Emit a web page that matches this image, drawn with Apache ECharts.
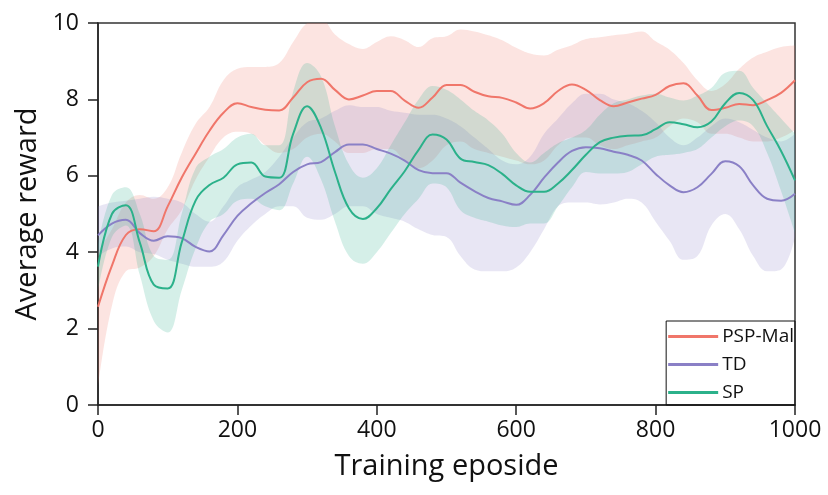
<!DOCTYPE html>
<html>
<head>
<meta charset="utf-8">
<script src="https://cdn.jsdelivr.net/npm/echarts@6/dist/echarts.min.js"></script>
<style>
html,body{margin:0;padding:0;background:#fff;}
#chart{width:828px;height:495px;}
</style>
</head>
<body>
<div id="chart"></div>
<script>
const episodes = [0,20,40,60,80,100,120,140,160,180,200,220,240,260,280,300,320,340,360,380,400,420,440,460,480,500,520,540,560,580,600,620,640,660,680,700,720,740,760,780,800,820,840,860,880,900,920,940,960,980,1000];

const pspMean = [2.57,3.65,4.45,4.6,4.55,5.2,5.95,6.58,7.18,7.65,7.9,7.8,7.73,7.71,8.05,8.45,8.54,8.25,8.0,8.1,8.22,8.22,7.97,7.78,8.05,8.38,8.38,8.2,8.08,8.04,7.92,7.76,7.9,8.22,8.39,8.25,7.98,7.82,7.92,8.02,8.12,8.35,8.42,8.1,7.72,7.78,7.88,7.85,7.98,8.17,8.5];
const pspUpper = [4.0,4.6,5.3,5.5,5.4,5.7,6.6,7.36,7.8,8.5,8.8,8.85,8.85,8.95,9.5,10.0,10.1,9.7,9.45,9.32,9.5,9.65,9.55,9.37,9.6,9.65,9.83,9.78,9.68,9.55,9.35,9.2,9.15,9.3,9.42,9.58,9.63,9.68,9.72,9.78,9.52,9.3,8.95,8.5,8.22,8.4,8.8,9.1,9.25,9.37,9.41];
const pspLower = [0.5,2.6,3.5,3.6,3.9,4.6,5.1,5.9,6.5,7.0,7.15,7.1,6.8,6.6,6.7,7.0,7.1,6.9,6.6,6.6,6.7,6.7,6.4,6.2,6.4,6.8,6.9,6.7,6.6,6.5,6.4,6.3,6.4,6.8,7.0,7.0,6.8,6.7,6.8,6.9,7.0,7.3,7.5,7.4,7.1,7.1,7.0,6.9,6.9,7.0,7.2];

const tdMean = [4.44,4.75,4.85,4.5,4.3,4.42,4.37,4.14,4.02,4.45,4.95,5.28,5.55,5.78,6.1,6.3,6.36,6.62,6.82,6.82,6.7,6.58,6.4,6.15,6.07,6.07,5.82,5.6,5.42,5.33,5.24,5.5,5.95,6.35,6.65,6.75,6.72,6.63,6.55,6.4,6.05,5.75,5.57,5.7,6.05,6.38,6.25,5.75,5.4,5.35,5.53];
const tdUpper = [5.2,5.3,5.35,5.4,5.45,5.4,5.3,5.0,4.8,5.2,5.7,5.9,6.1,6.5,7.0,7.4,7.5,7.7,7.85,7.8,7.8,7.7,7.65,7.6,7.6,7.5,7.3,7.0,6.7,6.4,6.3,6.5,7.1,7.5,7.9,8.15,8.15,8.0,7.9,7.7,7.4,7.0,6.8,7.0,7.3,7.5,7.4,7.2,7.0,6.9,7.1];
const tdLower = [3.9,4.1,4.15,4.0,3.95,3.8,3.7,3.62,3.62,3.75,4.3,4.7,5.0,5.2,5.2,4.9,4.85,5.0,5.2,5.2,5.0,4.9,4.8,4.6,4.45,4.4,3.9,3.55,3.5,3.5,3.6,4.0,4.6,5.2,5.3,5.3,5.25,5.3,5.4,5.3,4.8,4.3,3.8,3.9,4.7,5.0,4.6,3.9,3.5,3.55,4.4];

const spMean = [3.62,5.0,5.23,4.25,3.15,3.05,4.25,5.35,5.76,5.95,6.3,6.35,5.98,5.95,7.1,7.82,7.25,6.1,5.15,4.87,5.15,5.65,6.12,6.68,7.08,6.95,6.45,6.36,6.28,6.05,5.75,5.58,5.58,5.8,6.15,6.55,6.88,7.0,7.05,7.06,7.22,7.4,7.35,7.27,7.42,7.9,8.17,7.98,7.3,6.65,5.88];
const spUpper = [4.2,5.5,5.7,5.0,3.9,3.8,5.0,6.2,6.5,6.7,7.0,7.1,6.8,6.8,8.2,8.95,8.6,7.3,6.3,5.95,6.2,6.8,7.4,8.0,8.35,8.25,8.0,7.7,7.45,7.1,6.6,6.35,6.6,6.85,7.0,7.2,7.6,7.9,8.0,8.1,8.15,8.05,7.97,8.1,8.3,8.7,8.75,8.3,7.9,7.5,7.1];
const spLower = [3.0,4.4,4.7,3.4,2.2,1.9,3.0,4.1,4.8,5.0,5.35,5.4,5.2,5.1,5.8,6.5,5.9,4.8,3.9,3.7,4.0,4.5,5.0,5.4,5.8,5.7,5.1,4.9,4.8,4.7,4.66,4.75,4.75,5.2,5.7,6.1,6.06,6.06,6.1,6.3,6.5,6.55,6.6,6.7,7.0,7.3,7.45,7.3,6.6,5.6,4.5];

const xTicks = [0,200,400,600,800,1000];
const yTicks = [0,2,4,6,8,10];

const FONT = '"Open Sans", "Noto Sans", sans-serif';
const colors = {psp:'#f0766a', td:'#8a80c6', sp:'#2bb18a'};
const SMOOTH = 0.4;

function band(name, up, lo, color){
  return [
    {name: name+'_lo', type:'line', stack:name, data:lo.slice(), smooth:SMOOTH, symbol:'none',
     lineStyle:{width:0, opacity:0}, silent:true, z:2},
    {name: name+'_band', type:'line', stack:name, data:up.map((u,i)=>u-lo[i]), smooth:SMOOTH, symbol:'none',
     lineStyle:{width:0, opacity:0}, areaStyle:{color:color, opacity:0.2}, silent:true, z:2}
  ];
}
function meanLine(name, vals, color){
  return {name:name, type:'line', data:vals.slice(), smooth:SMOOTH, symbol:'none',
    lineStyle:{color:color, width:2}, itemStyle:{color:color}, z:2};
}

const tickFilter = (idx, val) => xTicks.includes(Number(val));

const chart = echarts.init(document.getElementById('chart'), null, {renderer:'canvas'});
chart.setOption({
  animation:false,
  backgroundColor:'#fff',
  grid:{left:98, right:33, top:23, bottom:90, show:true, borderColor:'#333', borderWidth:1.5},
  legend:{
    data:['PSP-Mal','TD','SP'], orient:'vertical', right:33, bottom:90,
    icon:'rect', itemWidth:50, itemHeight:3, itemGap:9,
    borderColor:'#111', borderWidth:1, padding:[6,1,3,2],
    textStyle:{fontFamily:FONT, fontSize:19, color:'#111', padding:[0,0,0,-1]}
  },
  xAxis:{
    type:'category', data:episodes.map(String), boundaryGap:false,
    name:'Training eposide', nameLocation:'middle', nameGap:47,
    nameTextStyle:{fontFamily:FONT, fontSize:29, color:'#111'},
    axisLine:{lineStyle:{color:'#222', width:1.5}},
    axisTick:{show:true, length:10, interval:tickFilter, lineStyle:{color:'#222', width:1.5}},
    axisLabel:{fontFamily:FONT, fontSize:23, color:'#111', margin:14, interval:tickFilter},
    splitLine:{show:false}
  },
  yAxis:{
    type:'value', min:0, max:10, interval:2,
    name:'Average reward', nameLocation:'middle', nameGap:52,
    nameTextStyle:{fontFamily:FONT, fontSize:29, color:'#111'},
    axisLine:{show:true, lineStyle:{color:'#222', width:1.5}},
    axisTick:{show:true, length:10, lineStyle:{color:'#222', width:1.5}},
    axisLabel:{fontFamily:FONT, fontSize:23, color:'#111', margin:19,
      formatter:v=> yTicks.includes(v) ? String(v) : ''},
    splitLine:{show:false}
  },
  series:[
    ...band('psp', pspUpper, pspLower, colors.psp),
    meanLine('PSP-Mal', pspMean, colors.psp),
    ...band('td', tdUpper, tdLower, colors.td),
    meanLine('TD', tdMean, colors.td),
    ...band('sp', spUpper, spLower, colors.sp),
    meanLine('SP', spMean, colors.sp)
  ]
});
</script>
</body>
</html>
